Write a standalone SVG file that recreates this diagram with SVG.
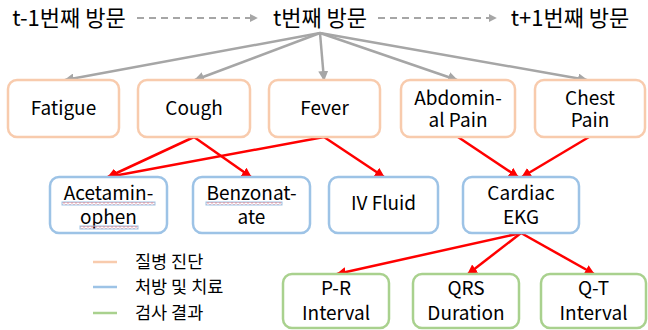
<svg xmlns="http://www.w3.org/2000/svg" width="648" height="330" viewBox="0 0 648 330">
<style>
text{font-family:"Noto Sans CJK KR","Noto Sans",sans-serif;fill:#000;text-anchor:middle}
.lbl{font-size:19px}
.top{font-size:22px}
.leg{font-size:17.5px;text-anchor:start}
.box{fill:#fff;stroke-width:2.5}
.dx rect{stroke:#F8CBAD}
.tx rect{stroke:#9DC3E6}
.rs rect{stroke:#A9D18E}
.g{stroke:#A6A6A6;stroke-width:2.5;fill:none}
.d{stroke:#A6A6A6;stroke-width:2;fill:none;stroke-dasharray:7 5}
.r{stroke:#FF0000;stroke-width:2.5;fill:none}
.wave{fill:url(#wv)}
</style>
<defs>
<marker id="ag" viewBox="0 0 10 10" refX="9" refY="5" markerWidth="4" markerHeight="4" orient="auto" markerUnits="strokeWidth"><path d="M0,0 L10,5 L0,10 z" fill="#A6A6A6"/></marker>
<marker id="ar" viewBox="0 0 10 10" refX="9" refY="5" markerWidth="4" markerHeight="4" orient="auto" markerUnits="strokeWidth"><path d="M0,0 L10,5 L0,10 z" fill="#FF0000"/></marker>
<pattern id="wv" width="4" height="3" patternUnits="userSpaceOnUse"><path d="M0,2.2 L2,0.6 L4,2.2" stroke="#FF3333" stroke-width="0.8" fill="none"/></pattern>
</defs>

<g id="visits">
<text class="top" x="69" y="26">t-1번째 방문</text>
<text class="top" x="320" y="26">t번째 방문</text>
<text class="top" x="570" y="26">t+1번째 방문</text>
</g>

<g id="connectors">
<line class="d" x1="137" y1="18" x2="257" y2="18" marker-end="url(#ag)"/>
<line class="d" x1="378" y1="18" x2="496" y2="18" marker-end="url(#ag)"/>
<line class="g" x1="320" y1="33" x2="65" y2="80" marker-end="url(#ag)"/>
<line class="g" x1="320" y1="33" x2="195" y2="80" marker-end="url(#ag)"/>
<line class="g" x1="320" y1="33" x2="324" y2="80" marker-end="url(#ag)"/>
<line class="g" x1="320" y1="33" x2="457" y2="80" marker-end="url(#ag)"/>
<line class="g" x1="320" y1="33" x2="587" y2="80" marker-end="url(#ag)"/>
<line class="r" x1="194" y1="137" x2="108" y2="177" marker-end="url(#ar)"/>
<line class="r" x1="194" y1="137" x2="251" y2="177" marker-end="url(#ar)"/>
<line class="r" x1="324" y1="137" x2="108" y2="177" marker-end="url(#ar)"/>
<line class="r" x1="324" y1="137" x2="384" y2="177" marker-end="url(#ar)"/>
<line class="r" x1="458" y1="137" x2="518" y2="177" marker-end="url(#ar)"/>
<line class="r" x1="589" y1="137" x2="522" y2="177" marker-end="url(#ar)"/>
<line class="r" x1="521" y1="233" x2="337" y2="274" marker-end="url(#ar)"/>
<line class="r" x1="521" y1="233" x2="468" y2="274" marker-end="url(#ar)"/>
<line class="r" x1="521" y1="233" x2="594" y2="274" marker-end="url(#ar)"/>
</g>

<g id="fatigue" class="dx"><rect class="box" x="8" y="80" width="111" height="57" rx="9"/><text class="lbl" x="63.5" y="115">Fatigue</text></g>
<g id="cough" class="dx"><rect class="box" x="138" y="80" width="112" height="57" rx="9"/><text class="lbl" x="194" y="115">Cough</text></g>
<g id="fever" class="dx"><rect class="box" x="269" y="80" width="111" height="57" rx="9"/><text class="lbl" x="324.5" y="115">Fever</text></g>
<g id="abdominal-pain" class="dx"><rect class="box" x="401" y="80" width="114" height="57" rx="9"/><text class="lbl" x="458" y="105">Abdomin-</text><text class="lbl" x="458" y="127">al Pain</text></g>
<g id="chest-pain" class="dx"><rect class="box" x="535" y="80" width="110" height="57" rx="9"/><text class="lbl" x="590" y="105">Chest</text><text class="lbl" x="590" y="127">Pain</text></g>

<g id="acetaminophen" class="tx"><rect class="box" x="50" y="177" width="117" height="56" rx="9"/><text class="lbl" x="108.5" y="200">Acetamin-</text><text class="lbl" x="108.5" y="224">ophen</text><rect class="wave" x="62" y="202" width="93" height="3"/><rect class="wave" x="80" y="226" width="58" height="3"/></g>
<g id="benzonatate" class="tx"><rect class="box" x="193" y="177" width="117" height="56" rx="9"/><text class="lbl" x="251.5" y="200">Benzonat-</text><text class="lbl" x="251.5" y="224">ate</text><rect class="wave" x="206" y="202" width="76" height="3"/></g>
<g id="iv-fluid" class="tx"><rect class="box" x="329" y="177" width="109" height="56" rx="9"/><text class="lbl" x="383.5" y="210">IV Fluid</text></g>
<g id="cardiac-ekg" class="tx"><rect class="box" x="463" y="177" width="116" height="56" rx="9"/><text class="lbl" x="521" y="200">Cardiac</text><text class="lbl" x="521" y="224">EKG</text></g>

<g id="pr-interval" class="rs"><rect class="box" x="283" y="274" width="106" height="54" rx="9"/><text class="lbl" x="336" y="295">P-R</text><text class="lbl" x="336" y="320">Interval</text></g>
<g id="qrs-duration" class="rs"><rect class="box" x="413" y="274" width="106" height="54" rx="9"/><text class="lbl" x="466" y="295">QRS</text><text class="lbl" x="466" y="320">Duration</text></g>
<g id="qt-interval" class="rs"><rect class="box" x="541" y="274" width="105" height="54" rx="9"/><text class="lbl" x="593.5" y="295">Q-T</text><text class="lbl" x="593.5" y="320">Interval</text></g>

<g id="legend">
<line x1="93" y1="262" x2="117" y2="262" stroke="#F8CBAD" stroke-width="2.5"/>
<line x1="93" y1="287" x2="117" y2="287" stroke="#9DC3E6" stroke-width="2.5"/>
<line x1="93" y1="313" x2="117" y2="313" stroke="#A9D18E" stroke-width="2.5"/>
<text class="leg" x="135" y="268">질병 진단</text>
<text class="leg" x="135" y="293">처방 및 치료</text>
<text class="leg" x="135" y="319">검사 결과</text>
</g>
</svg>
